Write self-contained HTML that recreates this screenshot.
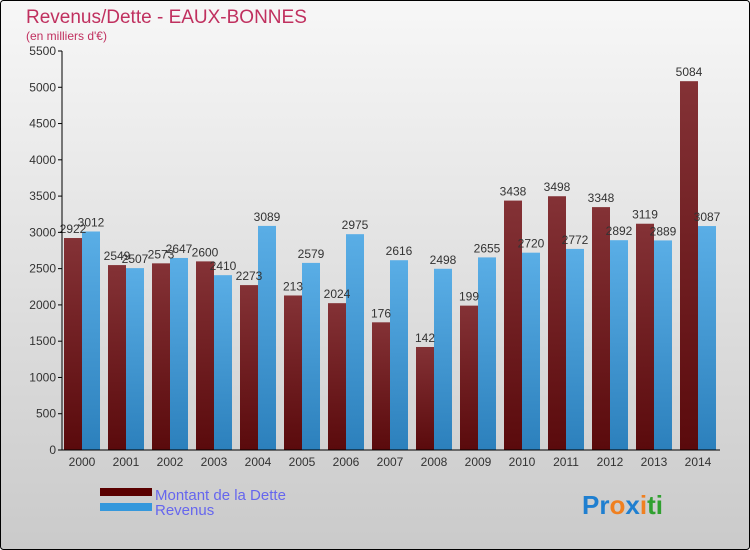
<!DOCTYPE html>
<html><head><meta charset="utf-8"><style>
body{margin:0;width:750px;height:550px;overflow:hidden;font-family:"Liberation Sans",sans-serif}
svg{display:block}
</style></head><body>
<svg id="c" width="750" height="550" xmlns="http://www.w3.org/2000/svg">
<defs>
<linearGradient id="bg" x1="0" y1="0" x2="0" y2="1"><stop offset="0" stop-color="#f7f7f7"/><stop offset="1" stop-color="#cacaca"/></linearGradient>
<linearGradient id="gd" x1="0" y1="0" x2="0" y2="1"><stop offset="0" stop-color="#843236"/><stop offset="1" stop-color="#5a0a0c"/></linearGradient>
<linearGradient id="gr" x1="0" y1="0" x2="0" y2="1"><stop offset="0" stop-color="#5aaee6"/><stop offset="1" stop-color="#2c80bc"/></linearGradient>
</defs>
<rect x="0.5" y="0.5" width="749" height="549" rx="3" fill="url(#bg)" stroke="#000"/>
<text x="26" y="23" font-size="19" fill="#c0305f">Revenus/Dette - EAUX-BONNES</text>
<text x="26" y="40" font-size="12" fill="#c0305f">(en milliers d'€)</text>
<g id="grid"></g><g id="bars"></g><g id="axes"></g>
<rect x="100" y="488" width="52" height="8" fill="#5a0000"/>
<rect x="100" y="503" width="52" height="8" fill="#3598dc"/>
<text x="155" y="500" font-size="15" fill="#6666ee">Montant de la Dette</text>
<text x="155" y="515" font-size="15" fill="#6666ee">Revenus</text>
<text x="582" y="514" font-size="26" font-weight="bold"><tspan fill="#1f7fd0">Pr</tspan><tspan fill="#f08020">o</tspan><tspan fill="#1f7fd0">x</tspan><tspan fill="#f08020">i</tspan><tspan fill="#30a030">ti</tspan></text>
</svg>
<script>
const years=["2000","2001","2002","2003","2004","2005","2006","2007","2008","2009","2010","2011","2012","2013","2014"];
const dette=[2922,2549,2573,2600,2273,2130,2024,1760,1420,1990,3438,3498,3348,3119,5084];
const revenus=[3012,2507,2647,2410,3089,2579,2975,2616,2498,2655,2720,2772,2892,2889,3087];
const detteLabels=["2922","2549","2573","2600","2273","213","2024","176","142","199","3438","3498","3348","3119","5084"];
const yTicks=[0,500,1000,1500,2000,2500,3000,3500,4000,4500,5000,5500];
const NS="http://www.w3.org/2000/svg";
const y=v=>450-v*(399/5500);
const x=i=>64+44*i;
function mk(t,a,p){const e=document.createElementNS(NS,t);for(const k in a)e.setAttribute(k,a[k]);p.appendChild(e);return e;}
const bars=document.getElementById('bars'),axes=document.getElementById('axes');
years.forEach((yr,i)=>{
  const d=mk('rect',{x:x(i),y:y(dette[i]),width:18,height:450-y(dette[i]),fill:'url(#gd)'},bars);
  
  
  const r=mk('rect',{x:x(i)+18,y:y(revenus[i]),width:18,height:450-y(revenus[i]),fill:'url(#gr)'},bars);
  
  
  const t1=mk('text',{x:x(i)+9,y:y(dette[i])-5,'font-size':12,fill:'#333','text-anchor':'middle'},bars);t1.textContent=detteLabels[i];
  
  
  const t2=mk('text',{x:x(i)+27,y:y(revenus[i])-5,'font-size':12,fill:'#333','text-anchor':'middle'},bars);t2.textContent=revenus[i];
  
  
  const xl=mk('text',{x:x(i)+18,y:466,'font-size':12,fill:'#333','text-anchor':'middle'},axes);xl.textContent=yr;
  
  
});
yTicks.forEach(v=>{
  mk('line',{x1:58,x2:62,y1:y(v),y2:y(v),stroke:'#000'},axes);
  const t=mk('text',{x:56,y:y(v)+4,'font-size':12,fill:'#333','text-anchor':'end'},axes);t.textContent=v;
  
  
});
const ya=mk('line',{x1:62,x2:62,y1:y(5500),y2:450,stroke:'#000'},axes);


const xa=mk('line',{x1:62,x2:720,y1:450,y2:450,stroke:'#000'},axes);


</script>
</body></html>
